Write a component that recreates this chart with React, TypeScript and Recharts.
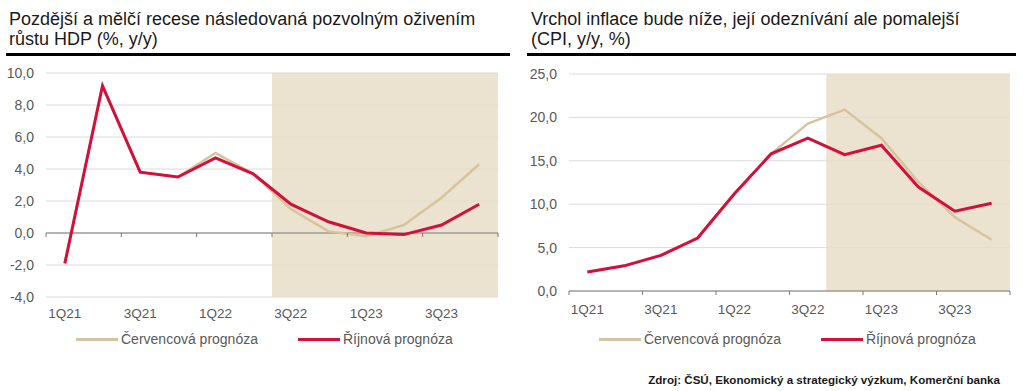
import React from "react"
import { CartesianGrid, Line, LineChart, ReferenceArea, ReferenceLine, XAxis, YAxis } from "recharts"

const quarters = ["1Q21", "2Q21", "3Q21", "4Q21", "1Q22", "2Q22", "3Q22", "4Q22", "1Q23", "2Q23", "3Q23", "4Q23"]

// HDP, y/y %
const gdpJuly = [-1.9, 9.2, 3.8, 3.5, 5.0, 3.7, 1.5, 0.1, -0.2, 0.5, 2.2, 4.3]
const gdpOctober = [-1.9, 9.2, 3.8, 3.5, 4.7, 3.7, 1.8, 0.7, 0.0, -0.1, 0.5, 1.8]
const gdpTicks = [-4, -2, 0, 2, 4, 6, 8, 10]

// CPI, y/y %
const cpiJuly = [2.2, 2.9, 4.1, 6.1, 11.2, 15.8, 19.3, 20.9, 17.6, 12.6, 8.5, 5.9]
const cpiOctober = [2.2, 2.9, 4.1, 6.1, 11.2, 15.8, 17.6, 15.7, 16.8, 12.0, 9.2, 10.1]
const cpiTicks = [0, 5, 10, 15, 20, 25]

const seriesNames = ["Červencová prognóza", "Říjnová prognóza"]
const seriesColors = ["#d5c49f", "#d30f3a"]

const FONT = "'Liberation Sans', Arial, sans-serif"
const TEXT = "#595959"

const toRows = (july: number[], october: number[]) =>
  quarters.map((q, i) => ({ q, july: july[i], october: october[i] }))

const fmt = (v: number) => v.toFixed(1).replace(".", ",")

type PanelProps = {
  left: number
  width: number
  rows: { q: string; july: number; october: number }[]
  ticks: number[]
  shadeFrom: string
  margin: { top: number; right: number; bottom: number; left: number }
  yWidth: number
  plotH: number
  labelDy: number
}

function QuarterTick(props: any) {
  const { x, y, payload, index, bw, zeroOffset, labelDy } = props
  const i = index ?? payload.index
  const edge = x - bw / 2
  const markY = y - zeroOffset
  return (
    <g>
      {i % 2 === 0 && <line x1={edge} x2={edge} y1={markY} y2={markY + 4} stroke="#7a7a7a" />}
      {i === quarters.length - 1 && <line x1={x + bw / 2} x2={x + bw / 2} y1={markY} y2={markY + 4} stroke="#7a7a7a" />}
      {i % 2 === 0 && (
        <text x={x} y={y + labelDy} textAnchor="middle" fill={TEXT} fontSize={13.5} fontFamily={FONT}>
          {payload.value}
        </text>
      )}
    </g>
  )
}

function Panel({ left, width, rows, ticks, shadeFrom, margin, yWidth, plotH, labelDy }: PanelProps) {
  const plotW = width - margin.left - margin.right - yWidth
  const bw = plotW / quarters.length
  const min = ticks[0]
  const max = ticks[ticks.length - 1]
  const zeroOffset = (plotH * (0 - min)) / (max - min)
  return (
    <div style={{ position: "absolute", left, top: 60 }}>
      <LineChart width={width} height={300} data={rows} margin={margin}>
        <CartesianGrid vertical={false} stroke="#dadada" />
        <ReferenceArea x1={shadeFrom} x2={quarters[quarters.length - 1]} fill="#e6dcc3" fillOpacity={0.8} stroke="none" />
        <XAxis
          dataKey="q"
          scale="band"
          interval={0}
          height={25}
          axisLine={false}
          tickLine={false}
          tickSize={0}
          tickMargin={0}
          tick={(p: any) => <QuarterTick {...p} bw={bw} zeroOffset={zeroOffset} labelDy={labelDy} />}
        />
        <YAxis
          width={yWidth}
          domain={[min, max]}
          ticks={ticks}
          tickFormatter={fmt}
          axisLine={false}
          tickLine={false}
          tickSize={0}
          tickMargin={12}
          tick={{ fill: TEXT, fontSize: 14, fontFamily: FONT }}
        />
        <ReferenceLine y={0} stroke="#7a7a7a" />
        <Line dataKey="july" name={seriesNames[0]} stroke={seriesColors[0]} strokeWidth={2.5} dot={false} isAnimationActive={false} />
        <Line dataKey="october" name={seriesNames[1]} stroke={seriesColors[1]} strokeWidth={3} dot={false} isAnimationActive={false} />
      </LineChart>
    </div>
  )
}

function LegendRow({ left }: { left: number }) {
  return (
    <div style={{ position: "absolute", left, top: 330, display: "flex", alignItems: "center", height: 18 }}>
      {seriesNames.map((name, i) => (
        <div key={name} style={{ display: "flex", alignItems: "center", marginRight: 40 }}>
          <div style={{ width: 42, height: 3, background: seriesColors[i], marginRight: 3 }} />
          <span style={{ fontSize: 14, color: TEXT, fontFamily: FONT }}>{name}</span>
        </div>
      ))}
    </div>
  )
}

function Title({ left, lines }: { left: number; lines: string[] }) {
  return (
    <div style={{ position: "absolute", left, top: 9, fontSize: 18, lineHeight: "20px", color: "#1a1a1a", fontFamily: FONT }}>
      {lines.map((l) => (
        <div key={l}>{l}</div>
      ))}
    </div>
  )
}

export default function App() {
  return (
    <div style={{ position: "absolute", left: 0, top: 0, width: 1023, height: 391, background: "#fff", fontFamily: FONT }}>
      <Title left={9} lines={["Pozdější a mělčí recese následovaná pozvolným oživením", "růstu HDP (%, y/y)"]} />
      <Title left={531} lines={["Vrchol inflace bude níže, její odeznívání ale pomalejší", "(CPI, y/y, %)"]} />
      <div style={{ position: "absolute", left: 6, top: 53, width: 504, height: 3, background: "#000" }} />
      <div style={{ position: "absolute", left: 527, top: 53, width: 489, height: 3, background: "#000" }} />

      <Panel
        left={0}
        width={520}
        rows={toRows(gdpJuly, gdpOctober)}
        ticks={gdpTicks}
        shadeFrom="3Q22"
        margin={{ top: 13, right: 22, bottom: 38, left: 8 }}
        yWidth={38}
        plotH={224}
        labelDy={21}
      />
      <Panel
        left={520}
        width={503}
        rows={toRows(cpiJuly, cpiOctober)}
        ticks={cpiTicks}
        shadeFrom="4Q22"
        margin={{ top: 14, right: 13, bottom: 44, left: 8 }}
        yWidth={41}
        plotH={217}
        labelDy={23}
      />

      <LegendRow left={76} />
      <LegendRow left={599} />

      <div style={{ position: "absolute", right: 23, top: 373, fontSize: 11.6, fontWeight: "bold", color: "#1a1a1a", fontFamily: FONT }}>
        Zdroj: ČSÚ, Ekonomický a strategický výzkum, Komerční banka
      </div>
    </div>
  )
}
